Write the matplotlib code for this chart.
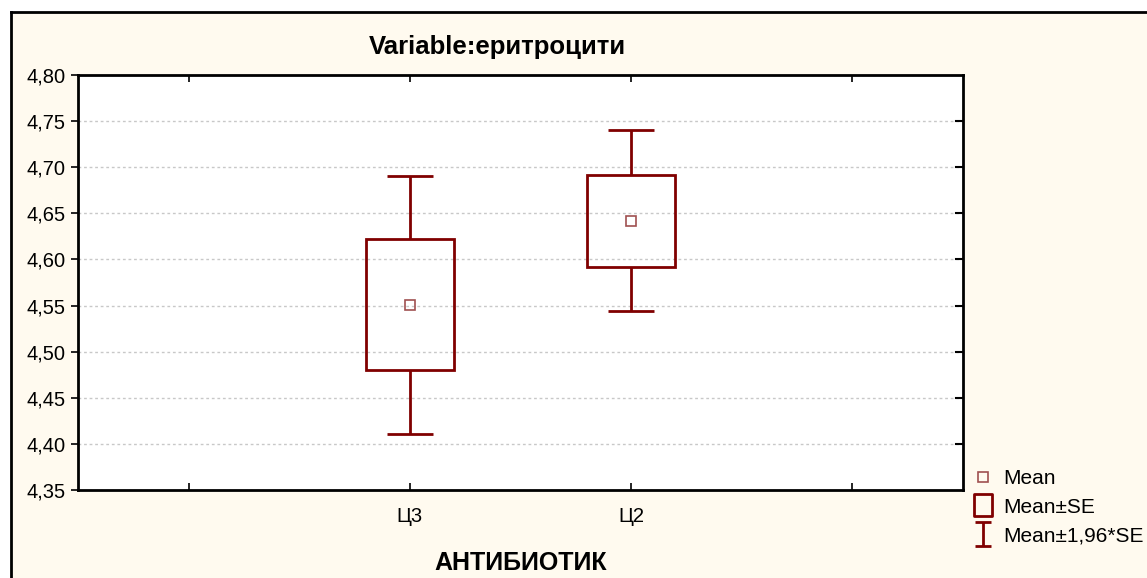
import numpy as np
import matplotlib.pyplot as plt
from matplotlib.patches import Rectangle
from matplotlib.lines import Line2D
from matplotlib.path import Path

# values
groups = ['Ц3', 'Ц2']
positions = [1, 2]
means = [4.551, 4.642]
se_low = [4.480, 4.592]
se_high = [4.622, 4.692]
ci_low = [4.411, 4.544]
ci_high = [4.690, 4.740]

y_ticks = [4.35, 4.40, 4.45, 4.50, 4.55, 4.60, 4.65, 4.70, 4.75, 4.80]

RED = '#800000'
MEAN_COL = '#a05050'
CREAM = '#fffaef'

plt.rcParams['font.family'] = ['Liberation Sans', 'DejaVu Sans']

fig = plt.figure(figsize=(11.47, 5.78), dpi=100, facecolor='white')
W, H = 1147, 578

# cream panel with black border on left and top
fig.patches.append(Rectangle((11 / W, 0), 1, 1 - 12 / H, transform=fig.transFigure,
                             facecolor=CREAM, edgecolor='none', zorder=-2))
fig.add_artist(Line2D([11 / W, 11 / W], [0, 1 - 12 / H], color='black', lw=2,
                      transform=fig.transFigure, zorder=-1))
fig.add_artist(Line2D([11 / W, 1], [1 - 12 / H, 1 - 12 / H], color='black', lw=2,
                      transform=fig.transFigure, zorder=-1))

ax = fig.add_axes([78 / W, 1 - 490 / H, 885 / W, 415 / H])
ax.set_facecolor('white')

# boxes: Mean +/- SE
ax.bar(positions, np.array(se_high) - np.array(se_low), bottom=se_low, width=0.4,
       facecolor='none', edgecolor=RED, linewidth=2, zorder=3)
# whiskers: Mean +/- 1.96*SE
ax.vlines(positions, ci_low, se_low, color=RED, lw=2, zorder=3)
ax.vlines(positions, se_high, ci_high, color=RED, lw=2, zorder=3)
ax.hlines(ci_low, np.array(positions) - 0.105, np.array(positions) + 0.105, color=RED, lw=2, zorder=3)
ax.hlines(ci_high, np.array(positions) - 0.105, np.array(positions) + 0.105, color=RED, lw=2, zorder=3)
# means
ax.plot(positions, means, ls='none', marker='s', ms=7.5, mfc='none', mec=MEAN_COL, mew=1.2, zorder=4)

ax.set_xlim(-0.5, 3.5)
ax.set_ylim(4.35, 4.80)
ax.set_xticks([0, 1, 2, 3])
ax.set_xticklabels(['', groups[0], groups[1], ''])
ax.set_yticks(y_ticks)
ax.set_yticklabels([f'{v:.2f}'.replace('.', ',') for v in y_ticks])
ax.tick_params(axis='x', direction='in', top=True, length=5, width=1.2, labelsize=14.5, pad=12)
ax.tick_params(axis='y', direction='out', length=5, width=1.2, labelsize=14.5, pad=4)
ax.grid(axis='y', color='#c8c8c8', linestyle=(0, (2, 2)), linewidth=1)
ax.set_axisbelow(True)
for s in ax.spines.values():
    s.set_linewidth(2)
# inward ticks on the right side
for v in y_ticks[1:-1]:
    ax.plot([3.5 - 0.03, 3.5], [v, v], color='black', lw=1.5, clip_on=False, zorder=5)

ax.set_xlabel('АНТИБИОТИК', fontsize=18, fontweight='bold', labelpad=18)
fig.text(497 / W, 1 - 47 / H, 'Variable:еритроцити', fontsize=18.5, fontweight='bold',
         ha='center', va='center')

# legend
I_path = Path([(-0.7, 1), (0.7, 1), (0, 1), (0, -1), (-0.7, -1), (0.7, -1)],
              [Path.MOVETO, Path.LINETO, Path.MOVETO, Path.LINETO, Path.MOVETO, Path.LINETO])
box_path = Path([(-0.8, -1), (0.8, -1), (0.8, 1), (-0.8, 1), (-0.8, -1)],
                [Path.MOVETO, Path.LINETO, Path.LINETO, Path.LINETO, Path.CLOSEPOLY])
handles = [
    Line2D([], [], ls='none', marker='s', ms=7.5, mfc='none', mec=MEAN_COL, mew=1.2),
    Line2D([], [], ls='none', marker=box_path, ms=15.5, mfc='none', mec=RED, mew=2),
    Line2D([], [], ls='none', marker=I_path, ms=17, mfc='none', mec=RED, mew=2),
]
labels = ['Mean', 'Mean±SE', 'Mean±1,96*SE']
fig.legend(handles, labels, loc='upper left', bbox_to_anchor=(972 / W, 1 - 469 / H),
           frameon=False, fontsize=15, handlelength=1.1, handletextpad=0.4,
           labelspacing=0.47, borderaxespad=0, borderpad=0)

fig.savefig('out.png', dpi=100, facecolor=fig.get_facecolor())
